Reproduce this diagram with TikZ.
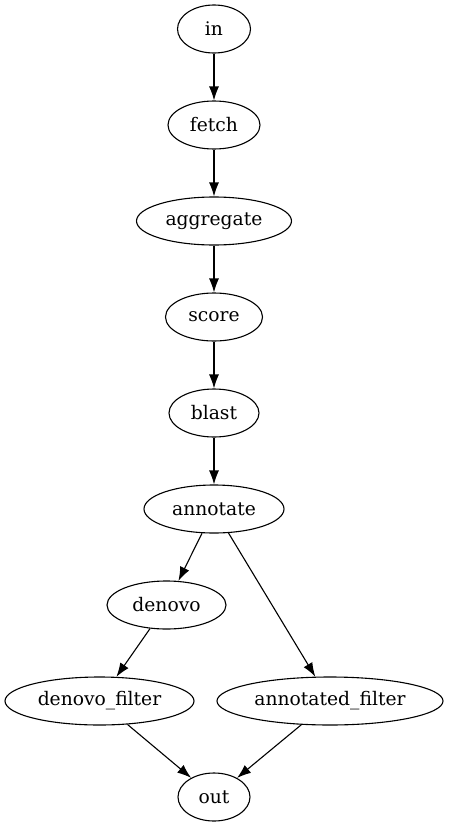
\documentclass[tikz,border=0pt]{standalone}
\usepackage{fontspec}
\setmainfont{DejaVu Serif}
\usetikzlibrary{shapes.geometric,arrows.meta}

\begin{document}
\begin{tikzpicture}[x=1pt,y=1pt,yscale=-1,xscale=1,
  stage/.style={draw,ellipse,line width=1.1pt,inner sep=0pt,minimum height=48pt,font=\fontsize{18.7}{22}\selectfont},
  flow/.style={draw,line width=1.1pt,-{Latex[length=14pt,width=10pt]}}]
\useasboundingbox (0,0) rectangle (448,827);

%Shape: Ellipse [id:in] 
\node (in) at (214,29) [stage,minimum width=73pt] {in};
%Shape: Ellipse [id:fetch] 
\node (fetch) at (214,125) [stage,minimum width=92pt] {fetch};
%Shape: Ellipse [id:aggregate] 
\node (aggregate) at (214,221) [stage,minimum width=155pt] {aggregate};
%Shape: Ellipse [id:score] 
\node (score) at (214,317) [stage,minimum width=97pt] {score};
%Shape: Ellipse [id:blast] 
\node (blast) at (214,413) [stage,minimum width=90pt] {blast};
%Shape: Ellipse [id:annotate] 
\node (annotate) at (214,509) [stage,minimum width=140pt] {annotate};
%Shape: Ellipse [id:denovo] 
\node (denovo) at (166.5,605) [stage,minimum width=119pt] {denovo};
%Shape: Ellipse [id:denovo_filter] 
\node (denovofilter) at (99.5,701) [stage,minimum width=189pt] {denovo\_filter};
%Shape: Ellipse [id:annotated_filter] 
\node (annotatedfilter) at (330,701) [stage,minimum width=226pt] {annotated\_filter};
%Shape: Ellipse [id:out] 
\node (out) at (214,797) [stage,minimum width=72pt] {out};

%Straight Lines 
\draw [flow] (in) -- (fetch);
\draw [flow] (fetch) -- (aggregate);
\draw [flow] (aggregate) -- (score);
\draw [flow] (score) -- (blast);
\draw [flow] (blast) -- (annotate);
\draw [flow] (annotate) -- (denovo);
\draw [flow] (annotate) -- (annotatedfilter);
\draw [flow] (denovo) -- (denovofilter);
\draw [flow] (denovofilter) -- (out);
\draw [flow] (annotatedfilter) -- (out);

\end{tikzpicture}
\end{document}
